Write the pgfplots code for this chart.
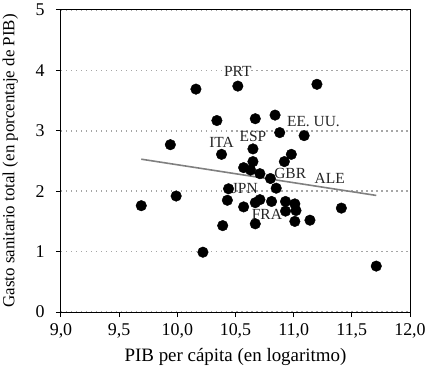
\documentclass[border=0pt]{standalone}
\usepackage{fontspec}
\setmainfont{Liberation Serif}
\usepackage{pgfplots}
\pgfplotsset{compat=1.18}
\begin{document}
\begin{tikzpicture}
\begin{axis}[
 name=ax,
 scale only axis, width=349bp, height=302bp,
 xmin=9, xmax=12, ymin=0, ymax=5,
 xtick={9,9.5,10,10.5,11,11.5,12}, ytick={0,1,2,3,4,5},
 tick align=outside, tick pos=left, major tick length=5bp,
 axis line style={line width=1bp, black},
 every tick/.style={black, line width=1bp},
 ymajorgrids,
 grid style={black!35, line width=1.5bp, dash pattern=on 1.5bp off 3.5bp},
 /pgf/number format/assume math mode=true,
 xticklabel style={yshift=-3bp, /pgf/number format/fixed, /pgf/number format/fixed zerofill, /pgf/number format/precision=1, /pgf/number format/use comma},
 yticklabel style={xshift=-8bp},
 ticklabel style={font=\fontsize{18}{20}\selectfont},
 xlabel={PIB per cápita (en logaritmo)},
 ylabel={Gasto sanitario total (en porcentaje de PIB)},
 xlabel style={font=\fontsize{19}{22}\selectfont, at={(axis description cs:0.5,-0.150)}, anchor=center},
 ylabel style={font=\fontsize{17}{20}\selectfont, at={(axis description cs:-0.145,0.5)}, anchor=center},
 clip=false,
]
\addplot[gray, line width=1.6bp] coordinates {(9.69,2.53) (11.71,1.93)};
\addplot[only marks, mark=*, mark size=5.3bp, black] coordinates {
(10.16,3.69) (10.52,3.74) (11.20,3.77) (10.34,3.17) (10.67,3.20) (10.84,3.26)
(10.88,2.97) (11.09,2.92) (9.94,2.77) (10.38,2.61) (10.65,2.70) (10.98,2.61)
(10.92,2.49) (10.65,2.49) (10.57,2.39) (10.63,2.35) (10.71,2.29) (10.80,2.21)
(10.85,2.05) (10.44,2.04) (9.99,1.92) (10.43,1.85) (9.69,1.76) (10.57,1.74)
(10.67,1.81) (10.71,1.86) (10.81,1.83) (10.93,1.83) (11.01,1.79) (10.93,1.67)
(11.02,1.68) (11.41,1.72) (10.39,1.43) (10.67,1.46) (11.01,1.50) (11.14,1.52)
(10.22,0.99) (11.71,0.76)
};
\begin{scope}[every node/.style={font=\fontsize{15.5}{17}\selectfont, text=black!85, inner sep=0pt}]
\node at (axis cs:10.52,3.99) {PRT};
\node at (axis cs:11.17,3.16) {EE. UU.};
\node at (axis cs:10.65,2.90) {ESP};
\node at (axis cs:10.38,2.81) {ITA};
\node at (axis cs:10.97,2.29) {GBR};
\node at (axis cs:11.31,2.22) {ALE};
\node at (axis cs:10.58,2.05) {JPN};
\node at (axis cs:10.77,1.61) {FRA};
\end{scope}
\end{axis}
\pgfresetboundingbox
\path ([shift={(-61bp,-61bp)}]ax.south west) rectangle ([shift={(15bp,10bp)}]ax.north east);
\end{tikzpicture}
\end{document}
